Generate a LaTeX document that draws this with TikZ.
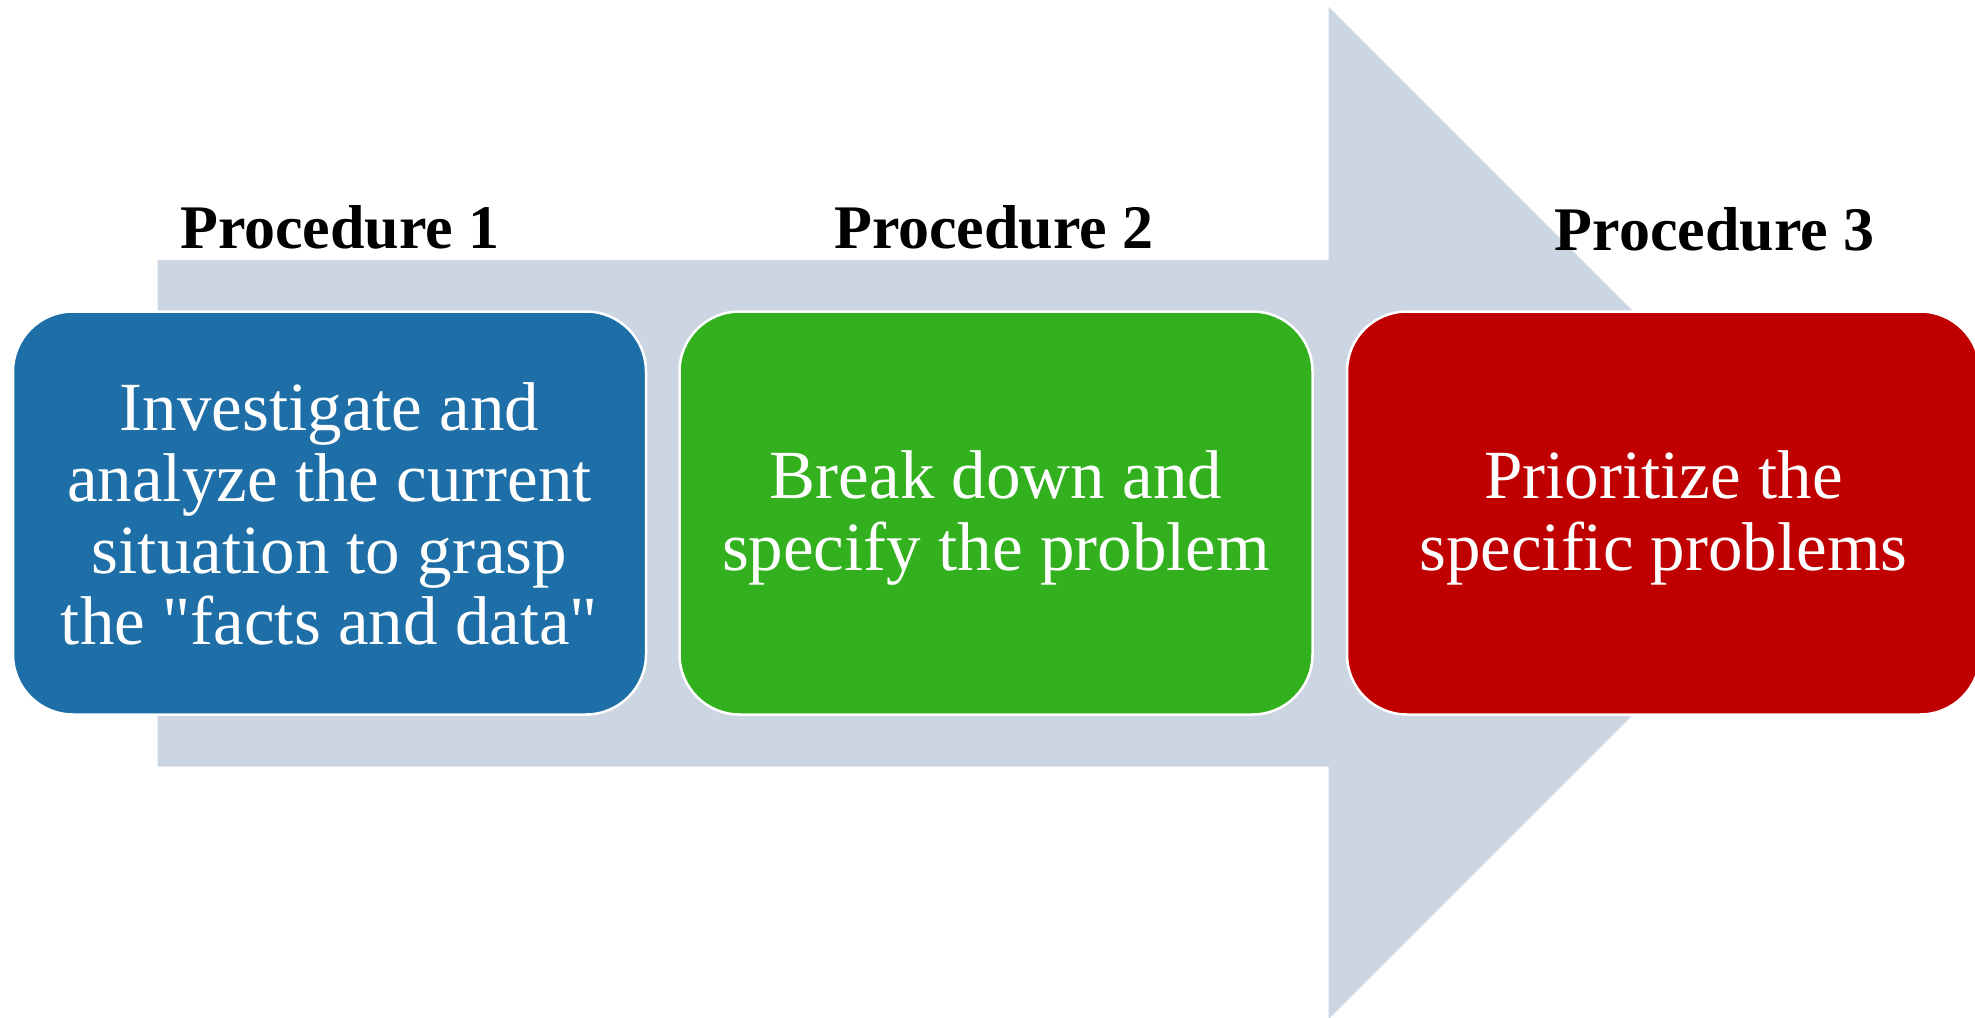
\documentclass[tikz,border=0pt]{standalone}
\usepackage{fontspec}
\setmainfont{Liberation Serif}
\definecolor{arrowgray}{RGB}{204,214,226}
\definecolor{stepblue}{RGB}{30,111,168}
\definecolor{stepgreen}{RGB}{50,176,30}
\definecolor{stepred}{RGB}{192,0,0}
\tikzset{
  stepbox/.style={draw=white, line width=2.5pt, rounded corners=60pt,
    minimum width=633pt, minimum height=403pt, inner sep=0pt},
  steptext/.style={text=white, align=center, inner sep=0pt,
    font=\fontsize{69}{71.5}\selectfont},
  steplabel/.style={anchor=base, inner sep=0pt,
    font=\fontsize{62}{62}\selectfont\bfseries}
}
\begin{document}
\begin{tikzpicture}[x=1pt, y=-1pt]
  \useasboundingbox (0,0) rectangle (1975,1017);
  \clip (0,0) rectangle (1975,1017);

  % large background arrow
  \fill[arrowgray] (157.5,260) -- (1328.6,260) -- (1328.6,6.7)
    -- (1835,513) -- (1328.6,1019.3) -- (1328.6,766.7)
    -- (157.5,766.7) -- cycle;

  % procedure boxes
  \node[stepbox, fill=stepblue]  (b1) at (329.5,513) {};
  \node[stepbox, fill=stepgreen] (b2) at (996,513) {};
  \node[stepbox, fill=stepred]   (b3) at (1663.5,513) {};

  % box texts
  \node[steptext] (t1) at ([yshift=-1pt]b1.center)
    {Investigate and\\analyze the current\\situation to grasp\\the \textquotedbl facts and data\textquotedbl};
  \node[steptext] (t2) at ([yshift=-5pt]b2.center)
    {Break down and\\specify the problem};
  \node[steptext] (t3) at ([yshift=-5pt]b3.center)
    {Prioritize the\\specific problems};

  % procedure headings
  \node[steplabel] (p1) at (340,248) {Procedure 1};
  \node[steplabel] (p2) at (994,248) {Procedure 2};
  \node[steplabel] (p3) at (1714.7,250.7) {Procedure 3};
\end{tikzpicture}
\end{document}
